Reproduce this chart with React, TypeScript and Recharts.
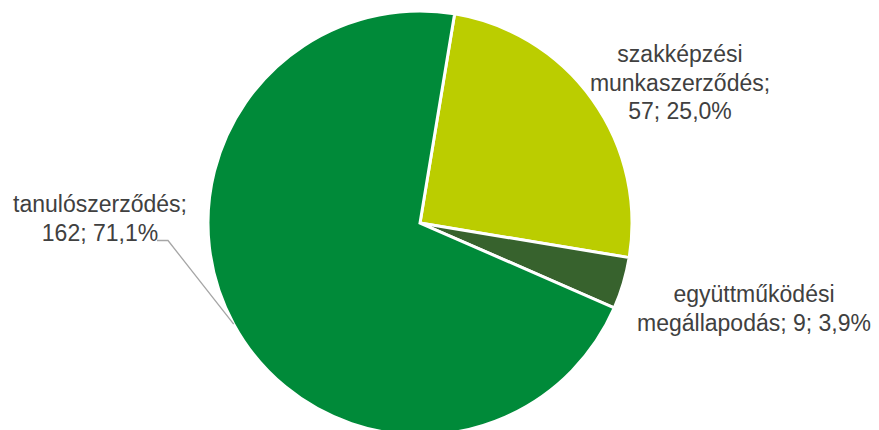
import { Pie, PieChart, Cell } from "recharts";

const categories = ["szakképzési munkaszerződés", "együttműködési megállapodás", "tanulószerződés"];
const counts = [57, 9, 162];
const colors = ["#BBCD00", "#37622D", "#008A39"];

const total = counts.reduce((a, b) => a + b, 0);
const data = categories.map((name, i) => ({ name, value: counts[i] }));

const RAD = Math.PI / 180;
const FONT = 23;
const LINE = 28.5;

// label placement relative to pie centre (Excel put these by hand)
const labelLayout = [
    { dx: 260, dy: -161 },
    { dx: 334, dy: 79 },
    { dx: -320, dy: -11, leader: true },
];

function pct(v: number) {
    return (v / total * 100).toFixed(1).replace(".", ",") + "%";
}

function splitLabel(i: number, name: string, value: number) {
    const words = name.split(" ");
    const tail = `${value}; ${pct(value)}`;
    if (i === 0) return [words[0], words[1] + ";", tail];
    if (i === 1) return [words[0], `${words[1]}; ${tail}`];
    return [name + ";", tail];
}

const renderLabel = (props: any) => {
    const { cx, cy, midAngle, outerRadius, index, name, value } = props;
    const lay = labelLayout[index];
    const lines = splitLabel(index, name, value);
    const x = cx + lay.dx;
    const y = cy + lay.dy;
    let leader = null;
    if (lay.leader) {
        const ex = cx + outerRadius * Math.cos(-midAngle * RAD);
        const ey = cy + outerRadius * Math.sin(-midAngle * RAD);
        const ly = y + LINE * (lines.length - 1);
        const sx = x + 57;
        leader = (
            <polyline
                points={`${sx},${ly} ${sx + 11},${ly} ${ex},${ey}`}
                fill="none"
                stroke="#A6A6A6"
                strokeWidth={1.3}
            />
        );
    }
    return (
        <g key={`lbl-${index}`}>
            {leader}
            <text
                x={x}
                y={y}
                textAnchor="middle"
                fill="#404040"
                fontSize={FONT}
                fontFamily="'Liberation Sans', Arial, sans-serif"
            >
                {lines.map((l, k) => (
                    <tspan key={k} x={x} y={y + k * LINE}>{l}</tspan>
                ))}
            </text>
        </g>
    );
};

export default function App() {
    return (
        <div style={{ position: "absolute", left: 0, top: 0, width: 879, height: 430, background: "#fff" }}>
            <PieChart width={879} height={430} margin={{ top: 0, right: 0, bottom: 0, left: 0 }}>
                <Pie
                    data={data}
                    dataKey="value"
                    nameKey="name"
                    cx={420}
                    cy={223}
                    outerRadius={212}
                    startAngle={80.6}
                    endAngle={-279.4}
                    stroke="#fff"
                    strokeWidth={3}
                    label={renderLabel}
                    labelLine={false}
                    isAnimationActive={false}
                >
                    {data.map((d, i) => (
                        <Cell key={d.name} fill={colors[i]} />
                    ))}
                </Pie>
            </PieChart>
        </div>
    );
}
